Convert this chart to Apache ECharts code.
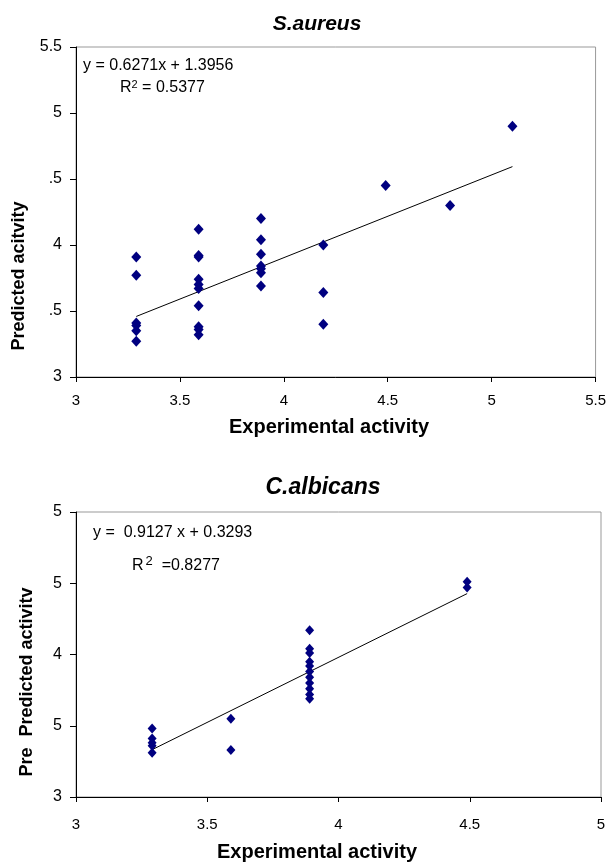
<!DOCTYPE html>
<html>
<head>
<meta charset="utf-8">
<script src="https://cdn.jsdelivr.net/npm/echarts@6/dist/echarts.min.js"></script>
<style>
  html, body { margin: 0; padding: 0; background: #fff; }
  #main { width: 609px; height: 863px; }
</style>
</head>
<body>
<div id="main"></div>
<script>
// S.aureus data (experimental vs predicted)
var aureusX = [3.29, 3.29, 3.29, 3.29, 3.29, 3.29,
  3.59, 3.59, 3.59, 3.59, 3.59, 3.59, 3.59, 3.59, 3.59, 3.59,
  3.89, 3.89, 3.89, 3.89, 3.89, 3.89, 3.89,
  4.19, 4.19, 4.19,
  4.49, 4.80, 5.10];
var aureusY = [3.91, 3.77, 3.41, 3.39, 3.35, 3.27,
  4.12, 3.92, 3.91, 3.74, 3.70, 3.67, 3.54, 3.38, 3.36, 3.32,
  4.20, 4.04, 3.93, 3.84, 3.82, 3.79, 3.69,
  4.00, 3.64, 3.40,
  4.45, 4.30, 4.90];
var aureusFit = [0.6271, 1.3956];

// C.albicans data
var albicansX = [3.29, 3.29, 3.29, 3.29, 3.29,
  3.59, 3.59,
  3.89, 3.89, 3.89, 3.89, 3.89, 3.89, 3.89, 3.89, 3.89, 3.89, 3.89,
  4.49, 4.49];
var albicansY = [3.48, 3.41, 3.38, 3.36, 3.31,
  3.55, 3.33,
  4.17, 4.04, 4.01, 3.95, 3.92, 3.88, 3.84, 3.80, 3.76, 3.72, 3.69,
  4.51, 4.47];
var albicansFit = [0.9127, 0.3293];

// tick labels as they appear (partly hidden in the original)
var aureusXTicks = ['3', '3.5', '4', '4.5', '5', '5.5'];
var aureusYTicks = ['3', '.5', '4', '.5', '5', '5.5'];
var albicansXTicks = ['3', '3.5', '4', '4.5', '5'];
var albicansYTicks = ['3', '5', '4', '5', '5'];

var font = 'Liberation Sans, Arial, sans-serif';
var navy = '#000080';

function pairs(xs, ys) {
  return xs.map(function (x, i) { return [x, ys[i]]; });
}

function fitLine(xs, fit) {
  var lo = Math.min.apply(null, xs);
  var hi = Math.max.apply(null, xs);
  return [[lo, fit[0] * lo + fit[1]], [hi, fit[0] * hi + fit[1]]];
}

function xAxisFor(idx, min, max, ticks, margin) {
  return {
    type: 'value', gridIndex: idx, min: min, max: max, interval: 0.5,
    axisLine: { show: true, onZero: false, lineStyle: { color: '#000', width: 1 } },
    axisTick: { show: true, length: 5, lineStyle: { color: '#000' } },
    axisLabel: {
      margin: margin, color: '#000', fontSize: 15, fontFamily: font,
      formatter: function (v) { return ticks[Math.round((v - min) / 0.5)]; }
    },
    splitLine: { show: false }
  };
}

function yAxisFor(idx, min, max, ticks) {
  return {
    type: 'value', gridIndex: idx, min: min, max: max, interval: 0.5,
    axisLine: { show: true, onZero: false, lineStyle: { color: '#000', width: 1 } },
    axisTick: { show: true, length: 6, lineStyle: { color: '#000' } },
    axisLabel: {
      margin: 14, color: '#000', fontSize: 16, fontFamily: font,
      formatter: function (v) { return ticks[Math.round((v - min) / 0.5)]; }
    },
    splitLine: { show: false }
  };
}

var chart = echarts.init(document.getElementById('main'));

var option = {
  backgroundColor: '#fff',
  animation: false,
  grid: [
    { left: 76, top: 47, width: 521, height: 330, show: true, borderColor: '#999', borderWidth: 1 },
    { left: 76, top: 512, width: 525, height: 285, show: true, borderColor: '#999', borderWidth: 1 }
  ],
  xAxis: [
    xAxisFor(0, 3, 5.5, aureusXTicks, 16),
    xAxisFor(1, 3, 5, albicansXTicks, 20)
  ],
  yAxis: [
    yAxisFor(0, 3, 5.5, aureusYTicks),
    yAxisFor(1, 3, 5, albicansYTicks)
  ],
  series: [
    {
      type: 'line', xAxisIndex: 0, yAxisIndex: 0,
      data: fitLine(aureusX, aureusFit), symbol: 'none',
      lineStyle: { color: '#000', width: 1 }, z: 3
    },
    {
      type: 'scatter', xAxisIndex: 0, yAxisIndex: 0,
      data: pairs(aureusX, aureusY), symbol: 'diamond', symbolSize: [10, 11],
      itemStyle: { color: navy, opacity: 1 }, z: 4
    },
    {
      type: 'line', xAxisIndex: 1, yAxisIndex: 1,
      data: fitLine(albicansX, albicansFit), symbol: 'none',
      lineStyle: { color: '#000', width: 1 }, z: 3
    },
    {
      type: 'scatter', xAxisIndex: 1, yAxisIndex: 1,
      data: pairs(albicansX, albicansY), symbol: 'diamond', symbolSize: [9, 10],
      itemStyle: { color: navy, opacity: 1 }, z: 4
    }
  ],
  graphic: [
    // titles
    { type: 'text', x: 317, y: 24, style: { text: 'S.aureus', font: 'italic bold 21px ' + font, fill: '#000', align: 'center', verticalAlign: 'middle' } },
    { type: 'text', x: 323, y: 488, style: { text: 'C.albicans', font: 'italic bold 23px ' + font, fill: '#000', align: 'center', verticalAlign: 'middle' } },
    // x axis names
    { type: 'text', x: 329, y: 427, style: { text: 'Experimental activity', font: 'bold 20px ' + font, fill: '#000', align: 'center', verticalAlign: 'middle' } },
    { type: 'text', x: 317, y: 852, style: { text: 'Experimental activity', font: 'bold 20px ' + font, fill: '#000', align: 'center', verticalAlign: 'middle' } },
    // y axis names
    { type: 'text', x: 19, y: 276, rotation: Math.PI / 2, style: { text: 'Predicted acitvity', font: 'bold 18px ' + font, fill: '#000', align: 'center', verticalAlign: 'middle' } },
    { type: 'text', x: 27, y: 662, rotation: Math.PI / 2, style: { text: 'Predicted activitv', font: 'bold 18px ' + font, fill: '#000', align: 'center', verticalAlign: 'middle' } },
    { type: 'text', x: 27, y: 762, rotation: Math.PI / 2, style: { text: 'Pre', font: 'bold 18px ' + font, fill: '#000', align: 'center', verticalAlign: 'middle' } },
    { type: 'rect', shape: { x: 17, y: 744, width: 20, height: 3 }, style: { fill: '#fff' } },
    // regression equations
    { type: 'text', x: 83, y: 66, style: { text: 'y = 0.6271x + 1.3956', font: '16px ' + font, fill: '#000', verticalAlign: 'middle' } },
    {
      type: 'text', x: 120, y: 88,
      style: {
        text: '{n|R}{s|2}{n| = 0.5377}', verticalAlign: 'middle',
        rich: {
          n: { fontSize: 16, fontFamily: font, color: '#000' },
          s: { fontSize: 11, fontFamily: font, color: '#000', verticalAlign: 'top', padding: [0, 0, 6, 0] }
        }
      }
    },
    { type: 'text', x: 93, y: 533, style: { text: 'y =  0.9127 x + 0.3293', font: '16px ' + font, fill: '#000', verticalAlign: 'middle' } },
    {
      type: 'text', x: 132, y: 566,
      style: {
        text: '{n|R}{s|2}{n|  =0.8277}', verticalAlign: 'middle',
        rich: {
          n: { fontSize: 16, fontFamily: font, color: '#000' },
          s: { fontSize: 13, fontFamily: font, color: '#000', verticalAlign: 'top', padding: [0, 0, 10, 2] }
        }
      }
    }
  ]
};

chart.setOption(option);
</script>
</body>
</html>
